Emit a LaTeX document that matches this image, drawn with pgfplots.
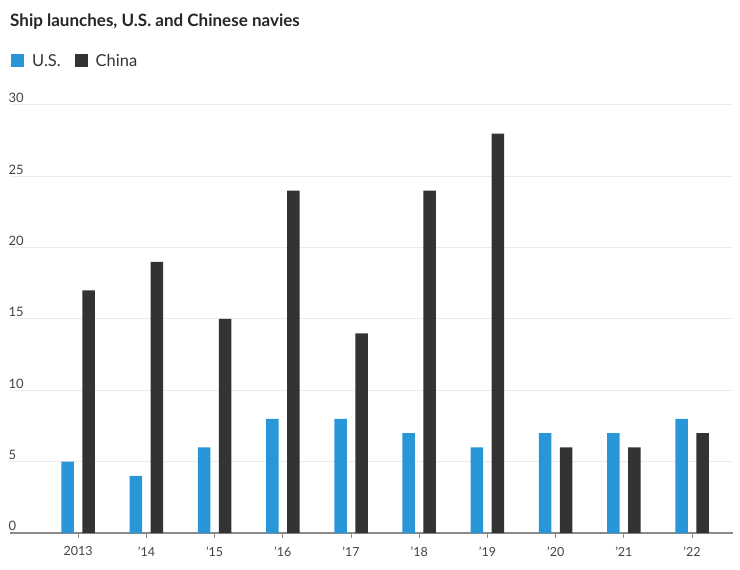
\documentclass[border=0pt]{standalone}
\usepackage{pgfplots}
\pgfplotsset{compat=1.18}
\usepackage{fontspec}
\setmainfont{Lato}
\definecolor{usblue}{HTML}{2996D8}
\definecolor{cndark}{HTML}{333333}
\definecolor{gridc}{HTML}{EBEBEB}
\definecolor{axisc}{HTML}{8A8A8A}
\definecolor{labc}{HTML}{444444}
\begin{document}
\begin{tikzpicture}
\path (-10bp,-37bp) rectangle (730bp,533bp);
\begin{axis}[
  name=main,
  at={(0,0)}, anchor=south west,
  scale only axis, width=723bp, height=428bp,
  xmin=-1, xmax=9.6, ymin=0, ymax=30,
  enlargelimits=false,
  ybar=8.5bp, bar width=12.5bp,
  axis x line=bottom, axis y line=left,
  x axis line style={axisc, line width=1.5bp, -},
  y axis line style={draw=none},
  xtick=data,
  xticklabels={2013,’14,’15,’16,’17,’18,’19,’20,’21,’22},
  xtick style={draw=axisc, line width=1bp},
  xtick align=outside, major tick length=5bp,
  ytick={0,5,...,30},
  ytick style={draw=none},
  ymajorgrids, grid style={gridc, line width=1bp},
  /pgf/number format/assume math mode=true,
  yticklabel style={anchor=south west, inner sep=1bp, xshift=0bp, yshift=1bp, font=\fontsize{13bp}{14bp}\selectfont, text=labc},
  xticklabel style={font=\fontsize{12.5bp}{14bp}\selectfont, text=labc, yshift=-5bp},
  legend style={at={(axis description cs:0,1)}, anchor=west, yshift=44bp, xshift=-2bp, draw=none, fill=none, font=\fontsize{16.5bp}{18bp}\selectfont, text=cndark,
    /tikz/every odd column/.append style={column sep=6bp},
    /tikz/every even column/.append style={column sep=12bp}},
  legend columns=-1,
  legend image code/.code={\fill[#1] (0bp,-6.5bp) rectangle (13bp,6.5bp);},
]
\addplot[fill=usblue, draw=none] coordinates {(0,5) (1,4) (2,6) (3,8) (4,8) (5,7) (6,6) (7,7) (8,7) (9,8)};
\addplot[fill=cndark, draw=none] coordinates {(0,17) (1,19) (2,15) (3,24) (4,14) (5,24) (6,28) (7,6) (8,6) (9,7)};
\legend{U.S.,China}
\end{axis}
\node[anchor=base west, inner sep=0pt, font=\bfseries\fontsize{17bp}{20bp}\selectfont, text=black!85] at ([yshift=78bp]main.north west) {Ship launches, U.S. and Chinese navies};
\end{tikzpicture}
\end{document}
